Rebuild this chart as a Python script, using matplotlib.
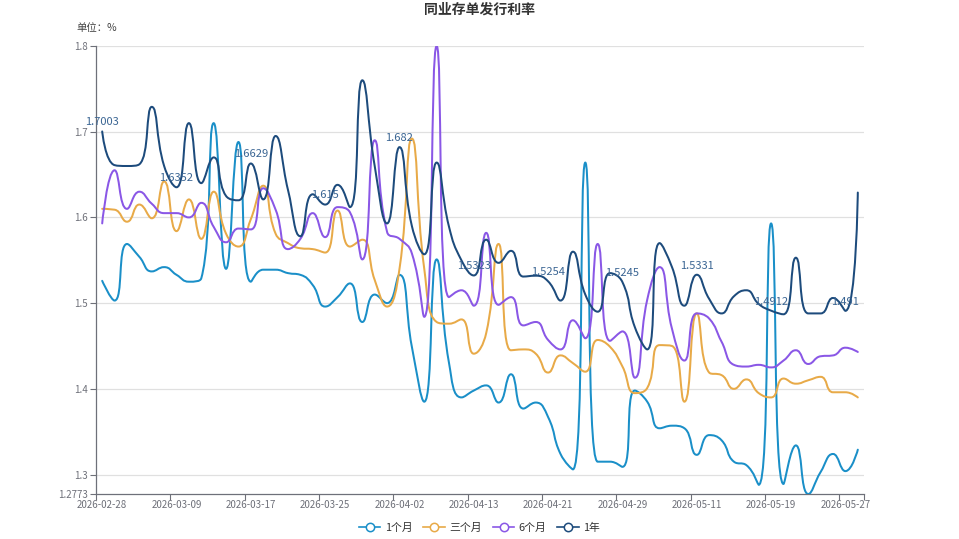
import numpy as np
import matplotlib
matplotlib.use("Agg")
import matplotlib.pyplot as plt
from matplotlib.path import Path
from matplotlib.patches import PathPatch
from matplotlib.lines import Line2D

plt.rcParams['font.family'] = ['Noto Sans CJK SC', 'DejaVu Sans']

# trading days (category axis)
dates = [
    "2026-02-28", "2026-03-02", "2026-03-03", "2026-03-04", "2026-03-05", "2026-03-06",
    "2026-03-09", "2026-03-10", "2026-03-11", "2026-03-12", "2026-03-13", "2026-03-16",
    "2026-03-17", "2026-03-18", "2026-03-19", "2026-03-20", "2026-03-23", "2026-03-24",
    "2026-03-25", "2026-03-26", "2026-03-27", "2026-03-30", "2026-03-31", "2026-04-01",
    "2026-04-02", "2026-04-03", "2026-04-07", "2026-04-08", "2026-04-09", "2026-04-10",
    "2026-04-13", "2026-04-14", "2026-04-15", "2026-04-16", "2026-04-17", "2026-04-20",
    "2026-04-21", "2026-04-22", "2026-04-23", "2026-04-24", "2026-04-27", "2026-04-28",
    "2026-04-29", "2026-04-30", "2026-05-06", "2026-05-07", "2026-05-08", "2026-05-09",
    "2026-05-11", "2026-05-12", "2026-05-13", "2026-05-14", "2026-05-15", "2026-05-18",
    "2026-05-19", "2026-05-20", "2026-05-21", "2026-05-22", "2026-05-25", "2026-05-26",
    "2026-05-27", "2026-05-28",
]

rate_1m = [
    1.526, 1.503, 1.569, 1.554, 1.537, 1.542, 1.533, 1.525, 1.529, 1.71,
    1.54, 1.688, 1.525, 1.539, 1.539, 1.535, 1.533, 1.521, 1.496, 1.507,
    1.523, 1.478, 1.51, 1.5, 1.533, 1.449, 1.385, 1.551, 1.43, 1.39,
    1.398, 1.404, 1.384, 1.417, 1.377, 1.384, 1.367, 1.324, 1.306, 1.664,
    1.315, 1.315, 1.309, 1.398, 1.385, 1.354, 1.357, 1.354, 1.323, 1.346,
    1.34, 1.315, 1.311, 1.288, 1.593, 1.289, 1.334, 1.2773, 1.303, 1.324,
    1.304, 1.329,
]
rate_3m = [
    1.61, 1.609, 1.595, 1.615, 1.599, 1.642, 1.584, 1.621, 1.575, 1.63,
    1.581, 1.566, 1.598, 1.637, 1.581, 1.57, 1.564, 1.563, 1.559, 1.608,
    1.566, 1.574, 1.527, 1.496, 1.54, 1.692, 1.54, 1.478, 1.476, 1.481,
    1.441, 1.465, 1.569, 1.445, 1.446, 1.441, 1.419, 1.439, 1.43, 1.42,
    1.457, 1.449, 1.426, 1.395, 1.401, 1.451, 1.45, 1.385, 1.488, 1.419,
    1.416, 1.4, 1.411, 1.395, 1.39, 1.412, 1.406, 1.41, 1.414, 1.396,
    1.396, 1.39,
]
rate_6m = [
    1.593, 1.655, 1.61, 1.63, 1.616, 1.605, 1.605, 1.6, 1.617, 1.589,
    1.571, 1.587, 1.586, 1.634, 1.609, 1.563, 1.575, 1.605, 1.577, 1.612,
    1.606, 1.551, 1.69, 1.583, 1.575, 1.558, 1.484, 1.8, 1.507, 1.515,
    1.497, 1.582, 1.498, 1.507, 1.474, 1.478, 1.457, 1.446, 1.48, 1.459,
    1.569, 1.456, 1.467, 1.413, 1.504, 1.542, 1.47, 1.433, 1.488, 1.482,
    1.455, 1.428, 1.426, 1.428, 1.425, 1.433, 1.445, 1.429, 1.438, 1.439,
    1.448, 1.443,
]
rate_1y = [
    1.7003, 1.661, 1.66, 1.662, 1.729, 1.66, 1.6352, 1.71, 1.64, 1.67,
    1.625, 1.62, 1.6629, 1.621, 1.695, 1.632, 1.578, 1.627, 1.615, 1.638,
    1.612, 1.76, 1.66, 1.593, 1.682, 1.59, 1.557, 1.664, 1.589, 1.55,
    1.5323, 1.574, 1.547, 1.561, 1.531, 1.532, 1.5254, 1.503, 1.56, 1.51,
    1.49, 1.535, 1.5245, 1.472, 1.446, 1.57, 1.542, 1.497, 1.5331, 1.505,
    1.488, 1.508, 1.515, 1.499, 1.4912, 1.487, 1.553, 1.488, 1.488, 1.506,
    1.491, 1.629,
]

series_names = ["1个月", "三个月", "6个月", "1年"]
series_data = [rate_1m, rate_3m, rate_6m, rate_1y]
series_colors = ["#1a8fc8", "#e8aa48", "#8a57e6", "#1d4b7c"]
label_color = "#3a6593"
axis_color = "#6e7079"

y_min, y_max = min(rate_1m), 1.8


def smooth_path(xs, ys, sx, sy, smooth=0.5):
    # bezier smoothing like echarts' smooth line, done in screen-ish units
    px = np.asarray(xs, float) * sx
    py = np.asarray(ys, float) * sy
    n = len(px)
    verts = [(px[0], py[0])]
    codes = [Path.MOVETO]
    cp0x, cp0y = px[0], py[0]
    for i in range(1, n):
        x, y = px[i], py[i]
        if i == n - 1:
            cp1x, cp1y = x, y
            nx0, ny0 = x, y
        else:
            prx, pry = px[i - 1], py[i - 1]
            nxx, nxy = px[i + 1], py[i + 1]
            vx, vy = nxx - prx, nxy - pry
            len_prev = np.hypot(x - prx, y - pry)
            len_next = np.hypot(nxx - x, nxy - y)
            ratio = len_next / (len_next + len_prev)
            nx0 = x + vx * smooth * ratio
            ny0 = y + vy * smooth * ratio
            nx0 = min(nx0, max(nxx, x)); ny0 = min(ny0, max(nxy, y))
            nx0 = max(nx0, min(nxx, x)); ny0 = max(ny0, min(nxy, y))
            vx, vy = nx0 - x, ny0 - y
            cp1x = x - vx * len_prev / len_next
            cp1y = y - vy * len_prev / len_next
            cp1x = min(cp1x, max(prx, x)); cp1y = min(cp1y, max(pry, y))
            cp1x = max(cp1x, min(prx, x)); cp1y = max(cp1y, min(pry, y))
            vx, vy = x - cp1x, y - cp1y
            nx0 = x + vx * len_next / len_prev
            ny0 = y + vy * len_next / len_prev
        verts += [(cp0x, cp0y), (cp1x, cp1y), (x, y)]
        codes += [Path.CURVE4] * 3
        cp0x, cp0y = nx0, ny0
    verts = np.array(verts)
    verts[:, 0] /= sx
    verts[:, 1] /= sy
    return Path(verts, codes)


fig = plt.figure(figsize=(9.59, 5.39), dpi=100)
ax = fig.add_axes([96 / 959, 1 - 494 / 539, 768 / 959, 448 / 539])

x = np.arange(len(dates))
px_per_cat = 768 / len(dates)
px_per_unit = 448 / (y_max - y_min)

# horizontal split lines
for v in [1.3, 1.4, 1.5, 1.6, 1.7, 1.8]:
    ax.axhline(v, color="#e0e0e0", lw=0.9, zorder=0)

for name, vals, color in zip(series_names, series_data, series_colors):
    path = smooth_path(x, vals, px_per_cat, px_per_unit)
    ax.add_patch(PathPatch(path, fill=False, edgecolor=color, lw=1.45,
                           capstyle="round", joinstyle="round", zorder=3))

# value labels on the 1-year series
for i in range(0, len(dates), 6):
    ax.annotate(f"{rate_1y[i]:g}", (x[i], rate_1y[i]), xytext=(0, 3),
                textcoords="offset points", ha="center", va="bottom",
                fontsize=8, color=label_color, zorder=5)

ax.set_xlim(-0.5, len(dates) - 0.5)
ax.set_ylim(y_min, y_max)

# ticks at category boundaries, labels at category centers
ax.set_xticks(list(np.arange(-0.5, len(dates), 6)) + [len(dates) - 0.5])
ax.set_xticklabels([])
ax.set_xticks(x[::6], minor=True)
ax.set_xticklabels(dates[::6], minor=True)
ax.tick_params(axis="x", which="major", length=4, color=axis_color)
ax.tick_params(axis="x", which="minor", length=0, pad=4, labelsize=7, labelcolor=axis_color)

yticks = [y_min, 1.3, 1.4, 1.5, 1.6, 1.7, 1.8]
ax.set_yticks(yticks)
ax.set_yticklabels([f"{v:g}" for v in yticks])
ax.tick_params(axis="y", length=4, pad=2, labelsize=7, color=axis_color, labelcolor=axis_color)

for side in ["top", "right"]:
    ax.spines[side].set_visible(False)
for side in ["left", "bottom"]:
    ax.spines[side].set_color(axis_color)
    ax.spines[side].set_linewidth(0.9)

fig.text(0.5, 1 - 10 / 539, "同业存单发行利率", ha="center", va="center",
         fontsize=10, fontweight="bold", color="#333333")
fig.text(76 / 959, 1 - 28 / 539, "单位：%", ha="left", va="center",
         fontsize=7.5, color="#444444")

handles = [Line2D([], [], color=c, lw=1.2, marker="o", markersize=6,
                  markerfacecolor="white", markeredgewidth=1.1) for c in series_colors]
fig.legend(handles, series_names, loc="center", bbox_to_anchor=(0.5, 1 - 528 / 539),
           ncol=4, frameon=False, fontsize=7.8, handlelength=2.0,
           handletextpad=0.4, columnspacing=1.0, labelcolor="#333333")

fig.savefig("out.png", dpi=100)
